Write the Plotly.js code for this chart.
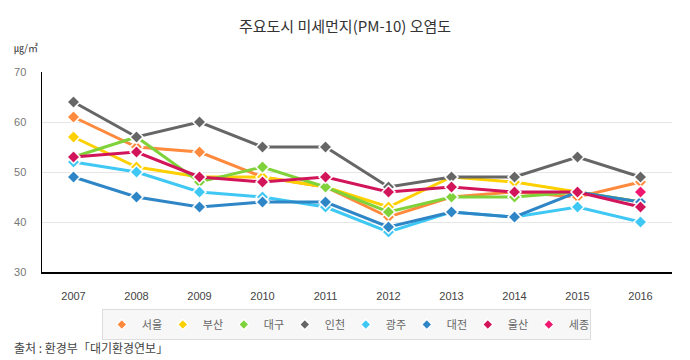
<!DOCTYPE html>
<html>
<head>
<meta charset="utf-8">
<script src="https://cdn.plot.ly/plotly-3.0.1.min.js"></script>
<style>
html,body{margin:0;padding:0;background:#fff;}
#chart{width:690px;height:360px;}
</style>
</head>
<body>
<div id="chart"></div>
<script>
const years = ['2007','2008','2009','2010','2011','2012','2013','2014','2015','2016'];
const seoul   = [61, 55, 54, 49, 47, 41, 45, 46, 45, 48];
const busan   = [57, 51, 49, 49, 47, 43, 49, 48, 46, 44];
const daegu   = [53, 57, 48, 51, 47, 42, 45, 45, 46, 44];
const incheon = [64, 57, 60, 55, 55, 47, 49, 49, 53, 49];
const gwangju = [52, 50, 46, 45, 43, 38, 42, 41, 43, 40];
const daejeon = [49, 45, 43, 44, 44, 39, 42, 41, 46, 44];
const ulsan   = [53, 54, 49, 48, 49, 46, 47, 46, 46, 43];
const sejong  = [null, null, null, null, null, null, null, null, null, 46];
const cityNames = ['서울','부산','대구','인천','광주','대전','울산','세종'];
const yTicks = [30, 40, 50, 60, 70];

const seriesValues = [seoul, busan, daegu, incheon, gwangju, daejeon, ulsan, sejong];
const colors = ['#FF8A3D','#FFD000','#7FD23A','#666666','#40C8F4','#2F86C6','#D2145A','#F0186E'];

const traces = [];
seriesValues.forEach((vals, i) => {
  traces.push({
    x: years, y: vals, type: 'scatter', mode: 'lines+markers',
    name: cityNames[i], legendgroup: cityNames[i], showlegend: false,
    line: {color: colors[i], width: 3},
    marker: {symbol: 'diamond', size: 10, color: colors[i], line: {color: '#fff', width: 1.5}},
    hoverinfo: 'x+y+name'
  });
});
cityNames.forEach((n, i) => {
  traces.push({
    x: [null], y: [null], type: 'scatter', mode: 'markers',
    name: n, legendgroup: n, showlegend: true,
    marker: {symbol: 'diamond', size: 8, color: colors[i], line: {color: '#fff', width: 1.5}}
  });
});

const layout = {
  width: 690, height: 360,
  margin: {l: 42, r: 18, t: 72, b: 88, autoexpand: false},
  paper_bgcolor: '#fff', plot_bgcolor: '#fff',
  font: {family: 'Noto Sans CJK KR, Noto Sans, sans-serif', color: '#333'},
  title: {text: '주요도시 미세먼지(PM-10) 오염도', x: 0.5, xanchor: 'center', y: 0.925, yanchor: 'middle',
          font: {size: 15, color: '#333'}},
  xaxis: {
    type: 'category', range: [-0.5, 9.5], showgrid: false, automargin: false,
    showline: true, linecolor: '#000', linewidth: 1.5, ticks: '',
    tickfont: {size: 11, color: '#444', family: 'Liberation Sans, Arial, sans-serif'}, ticklabelstandoff: 13
  },
  yaxis: {
    range: [30, 70], tickvals: yTicks, showgrid: true, gridcolor: '#e6e6e6', gridwidth: 1, automargin: false,
    showline: true, linecolor: '#000', linewidth: 1.5, ticks: '', zeroline: false,
    tickfont: {size: 11, color: '#777', family: 'Liberation Sans, Arial, sans-serif'}, ticklabelstandoff: 12
  },
  showlegend: true,
  legend: {
    orientation: 'h', x: 0.483, xanchor: 'center', y: -0.185, yanchor: 'top',
    bgcolor: '#f7f7f7', bordercolor: '#dddddd', borderwidth: 1,
    font: {size: 11, color: '#666'}, entrywidth: 16, entrywidthmode: 'pixels',
    itemclick: false, itemdoubleclick: false, tracegroupgap: 0
  },
  annotations: [
    {text: '㎍/㎥', xref: 'paper', yref: 'paper', x: -0.047, y: 1.12, xanchor: 'left', yanchor: 'middle',
     showarrow: false, font: {size: 10, color: '#333'}},
    {text: '출처 : 환경부「대기환경연보」', xref: 'paper', yref: 'paper', x: -0.047, y: -0.375,
     xanchor: 'left', yanchor: 'middle', showarrow: false, font: {size: 12, color: '#444'}}
  ]
};

Plotly.newPlot('chart', traces, layout, {displayModeBar: false, staticPlot: true});
</script>
</body>
</html>
